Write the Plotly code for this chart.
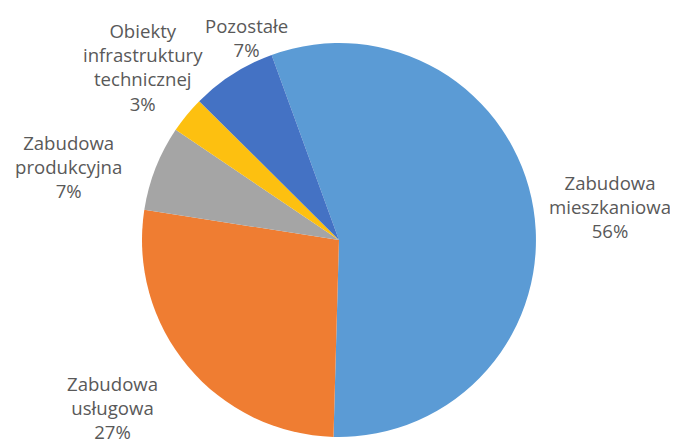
import plotly.graph_objects as go

categories = ["Zabudowa<br>mieszkaniowa", "Zabudowa<br>usługowa", "Zabudowa<br>produkcyjna",
              "Obiekty<br>infrastruktury<br>technicznej", "Pozostałe"]
values = [56, 27, 7, 3, 7]
colors = ["#5b9bd5", "#ef7d32", "#a5a5a5", "#fdc010", "#4472c4"]

# label anchor positions (paper fraction) for each category label
label_x = [0.8985, 0.1567, 0.0896, 0.2015, 0.3567]
label_y = [0.5406, 0.0742, 0.6311, 0.8631, 0.9304]

fig = go.Figure(go.Pie(
    labels=categories,
    values=values,
    textinfo="none",
    sort=False,
    direction="clockwise",
    rotation=-20,
    marker=dict(colors=colors, line=dict(width=0)),
    domain=dict(x=[0.2, 0.788], y=[0.0046, 0.9188]),
    showlegend=False,
    hoverinfo="label+percent",
))

for c, v, x, y in zip(categories, values, label_x, label_y):
    fig.add_annotation(
        x=x, y=y, xref="paper", yref="paper",
        text=f"{c}<br>{v}%", showarrow=False,
        xanchor="center", yanchor="middle", align="center",
        font=dict(family="Open Sans", size=18.6, color="#595959"),
    )

fig.update_layout(
    width=670, height=431,
    margin=dict(l=0, r=0, t=0, b=0),
    paper_bgcolor="white",
    plot_bgcolor="white",
)
fig.write_html("out.html")
